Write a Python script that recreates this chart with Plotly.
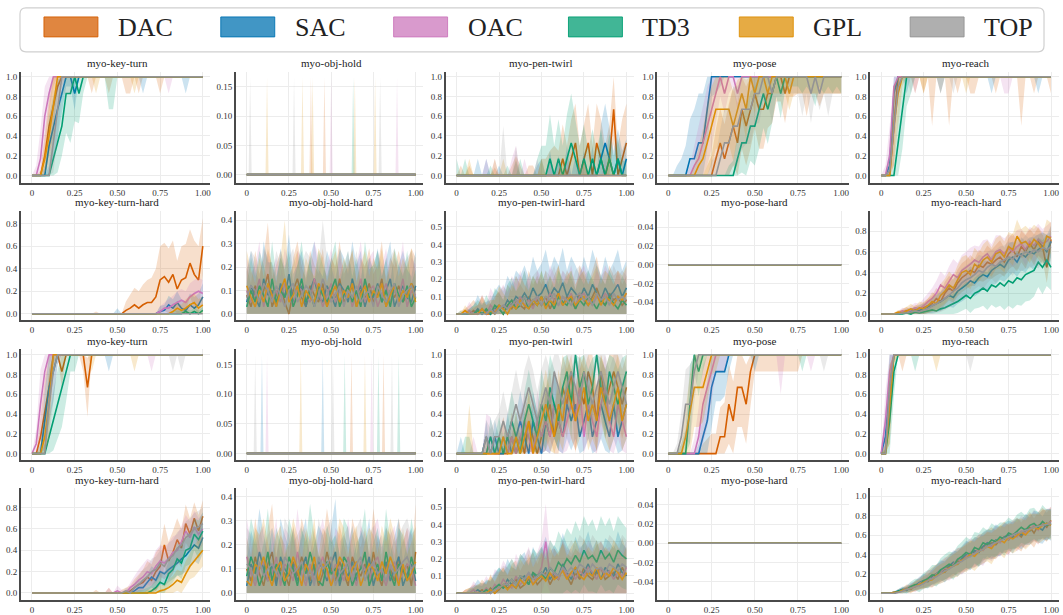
import plotly.graph_objects as go

W, H = 1063, 615
FONT = "Liberation Serif, Times New Roman, DejaVu Serif, serif"

ALGOS = ["DAC", "SAC", "OAC", "TD3", "GPL", "TOP"]
COLORS = {"DAC": (213, 94, 0), "SAC": (1, 115, 178), "OAC": (204, 120, 188),
          "TD3": (2, 158, 115), "GPL": (222, 143, 5), "TOP": (148, 148, 148)}

X = [0.0, 0.025, 0.05, 0.075, 0.1, 0.125, 0.15, 0.175, 0.2, 0.225,
     0.25, 0.275, 0.3, 0.325, 0.35, 0.375, 0.4, 0.425, 0.45, 0.475,
     0.5, 0.525, 0.55, 0.575, 0.6, 0.625, 0.65, 0.675, 0.7, 0.725,
     0.75, 0.775, 0.8, 0.825, 0.85, 0.875, 0.9, 0.925, 0.95, 0.975, 1.0]

X_TICKS = [0, 0.25, 0.5, 0.75, 1.0]
X_TICK_TEXT = ["0", "0.25", "0.50", "0.75", "1.00"]

ZEROS = [0, 0, 0, 0, 0, 0, 0, 0, 0, 0, 0, 0, 0, 0, 0, 0, 0, 0, 0, 0, 0,
         0, 0, 0, 0, 0, 0, 0, 0, 0, 0, 0, 0, 0, 0, 0, 0, 0, 0, 0, 0]

SPIKE_HEIGHT = 0.167

# ---------------- values in percent (success rate x 100) ----------------
R1_KEY_MEAN = {
    "DAC": [0,0,0,20,50,70,90,100,100,100, 100,100,100,100,100,100,100,100,100,100, 100,100,100,100,100,100,100,100,100,100, 100,100,100,100,100,100,100,100,100,100, 100],
    "SAC": [0,0,0,0,30,50,67,83,100,100, 83,100,100,100,100,100,100,100,100,100, 100,100,100,100,100,100,100,100,100,100, 100,100,100,100,100,100,100,100,100,100, 100],
    "OAC": [0,0,17,60,83,100,100,100,100,100, 100,100,100,100,100,100,100,100,100,100, 100,100,100,100,100,100,100,100,100,100, 100,100,100,100,100,100,100,100,100,100, 100],
    "TD3": [0,0,0,0,0,17,33,50,83,83, 100,83,100,100,100,100,100,100,100,100, 100,100,100,100,100,100,100,100,100,100, 100,100,100,100,100,100,100,100,100,100, 100],
    "GPL": [0,0,0,17,40,70,100,100,100,100, 100,100,100,100,100,100,100,100,100,100, 100,100,100,100,100,100,100,100,100,100, 100,100,100,100,100,100,100,100,100,100, 100],
    "TOP": [0,0,0,0,0,33,67,100,100,100, 100,100,100,100,100,100,100,100,100,100, 100,100,100,100,100,100,100,100,100,100, 100,100,100,100,100,100,100,100,100,100, 100],
}
R1_KEY_SPREAD = {
    "DAC": [0,0,5,25,30,30,20,10,0,0, 0,0,0,0,17,0,0,0,17,0, 0,0,17,17,0,17,0,0,0,0, 17,0,0,0,0,0,0,0,0,0, 0],
    "SAC": [0,0,0,10,30,30,30,20,10,10, 17,0,0,0,0,0,0,0,0,0, 0,0,0,0,0,0,17,0,0,0, 0,0,0,0,0,0,17,0,0,0, 0],
    "OAC": [0,10,30,30,20,10,0,0,0,0, 0,0,0,0,0,0,0,0,0,0, 0,0,0,0,0,0,0,0,0,0, 0,0,17,0,0,0,0,0,0,0, 0],
    "TD3": [0,0,0,0,10,25,30,30,40,50, 45,30,17,0,0,0,0,0,33,33, 0,0,0,0,0,0,0,0,0,0, 0,0,0,0,0,0,0,0,0,0, 0],
    "GPL": [0,0,0,15,30,30,10,0,0,0, 0,0,0,0,0,17,0,0,0,0, 0,0,0,0,17,0,0,0,0,0, 0,0,0,0,0,0,0,0,0,0, 0],
    "TOP": [0,0,0,0,10,30,30,17,17,17, 0,0,0,0,0,0,0,0,0,0, 0,0,0,0,0,0,0,0,0,0, 0,0,0,0,0,0,0,0,0,0, 0],
}

R1_OBJ_SPIKES = {
    "DAC": [0.38, 0.46],
    "SAC": [],
    "OAC": [0.50, 0.89],
    "TD3": [0.63],
    "GPL": [0.12, 0.33, 0.39, 0.64, 0.76],
    "TOP": [0.02, 0.28, 0.79],
}

R1_PEN_MEAN = {
    "DAC": [0,0,0,0,0,0,0,0,0,0, 0,0,0,0,0,0,0,0,0,0, 0,0,0,0,0,17,0,17,33,0, 17,33,0,33,17,0,17,67,0,17, 33],
    "SAC": [0,0,0,0,0,0,0,0,0,0, 0,0,0,0,0,0,0,0,0,0, 0,0,0,0,0,0,0,0,0,0, 0,0,0,0,17,33,17,0,17,0, 17],
    "OAC": ZEROS,
    "TD3": [0,0,0,0,0,0,0,0,0,0, 0,0,0,0,0,0,0,0,0,0, 0,0,17,0,17,0,17,33,17,0, 17,0,17,0,17,0,17,0,17,0, 0],
    "GPL": ZEROS,
    "TOP": ZEROS,
}
R1_PEN_SPREAD = {
    "DAC": [0,10,0,10,0,0,0,0,0,8, 0,0,0,10,20,10,0,10,10,0, 17,17,25,30,25,35,30,40,40,30, 35,40,30,40,40,30,35,35,30,40, 40],
    "SAC": [0,0,0,0,0,17,0,17,0,0, 10,0,0,0,15,0,0,0,0,10, 17,0,25,0,20,0,30,0,20,0, 25,0,30,0,35,40,30,25,30,25, 20],
    "OAC": [0,0,0,0,0,0,0,17,0,17, 0,0,0,17,30,0,17,0,0,17, 0,0,17,0,0,0,17,0,0,0, 20,0,0,0,0,17,0,0,0,0, 0],
    "TD3": [17,0,17,0,0,0,0,0,10,0, 0,0,10,0,0,17,0,0,0,17, 30,30,45,30,40,30,45,50,40,30, 35,25,30,25,30,20,25,20,20,15, 15],
    "GPL": [0,0,0,17,0,0,0,0,0,17, 0,17,0,0,17,0,0,0,0,0, 17,0,0,0,0,17,0,0,0,0, 17,0,0,0,0,0,30,0,0,0, 0],
    "TOP": [0,0,0,0,0,0,0,0,0,0, 0,50,0,0,30,0,0,0,0,0, 0,0,0,0,17,0,0,0,0,17, 0,0,0,0,0,0,0,0,0,0, 0],
}

R1_POSE_MEAN = {
    "DAC": [0,0,0,0,0,0,0,0,0,0, 0,17,33,17,33,50,33,67,50,67, 83,67,67,83,83,100,100,83,100,100, 100,100,100,100,100,100,100,100,100,100, 100],
    "SAC": [0,0,0,0,0,17,17,33,33,67, 100,100,100,100,100,100,100,100,100,100, 100,100,100,100,100,100,100,100,100,100, 100,100,100,100,100,100,100,100,100,100, 100],
    "OAC": [0,0,0,0,0,0,10,17,33,50, 67,83,100,83,100,100,83,100,100,100, 100,100,100,100,100,100,100,100,100,100, 100,100,100,100,100,100,100,100,100,100, 100],
    "TD3": [0,0,0,0,0,0,0,0,0,0, 0,0,0,0,0,0,17,33,33,50, 50,67,83,67,83,100,83,100,100,100, 100,100,100,100,100,100,100,100,100,100, 100],
    "GPL": [0,0,0,0,0,0,0,10,17,33, 50,67,67,67,67,50,67,83,67,100, 83,100,100,83,100,100,100,100,83,100, 100,100,100,100,100,100,100,100,100,100, 100],
    "TOP": [0,0,0,0,0,0,0,0,0,0, 0,0,17,33,33,50,50,67,67,67, 83,83,100,100,83,100,100,100,100,100, 100,100,100,83,100,83,100,100,100,100, 100],
}
R1_POSE_SPREAD = {
    "DAC": [0,0,0,0,0,0,0,0,0,10, 20,30,35,35,40,40,40,40,40,40, 35,40,40,35,30,25,25,30,20,20, 17,17,40,17,17,30,17,17,17,17, 17],
    "SAC": [0,0,10,17,30,40,50,50,50,40, 20,17,10,0,0,0,0,0,0,0, 17,0,0,0,0,0,0,0,0,0, 0,0,0,0,0,0,0,0,0,0, 0],
    "OAC": [0,0,0,0,0,10,20,30,35,40, 40,30,20,20,17,10,17,0,0,0, 0,0,0,0,0,0,0,0,0,0, 0,0,0,0,0,0,0,0,0,0, 0],
    "TD3": [0,0,0,0,0,0,0,0,0,0, 0,0,0,0,10,15,25,30,35,35, 40,40,35,35,30,20,25,15,10,10, 10,17,10,17,30,10,17,10,17,10, 17],
    "GPL": [0,0,0,0,0,0,10,20,30,40, 40,40,40,35,35,35,30,25,30,20, 20,17,17,17,17,17,17,17,17,17, 17,17,17,17,17,17,17,17,17,17, 17],
    "TOP": [0,0,0,0,0,0,0,0,0,0, 15,20,30,35,35,40,40,40,35,35, 30,30,25,25,30,20,20,17,17,17, 17,40,17,30,17,17,17,40,17,17, 17],
}

R1_REACH_MEAN = {
    "DAC": [0,0,0,50,100,100,100,100,100,100, 100,100,100,100,100,100,100,100,100,100, 100,100,100,100,100,100,100,100,100,100, 100,100,100,100,100,100,100,100,100,100, 100],
    "SAC": [0,0,10,83,100,100,100,100,100,100, 100,100,100,100,100,100,100,100,100,100, 100,100,100,100,100,100,100,100,100,100, 100,100,100,100,100,100,100,100,100,100, 100],
    "OAC": [0,0,20,90,100,100,100,100,100,100, 100,100,100,100,100,100,100,100,100,100, 100,100,100,100,100,100,100,100,100,100, 100,100,100,100,100,100,100,100,100,100, 100],
    "TD3": [0,0,0,0,33,67,100,100,100,100, 100,100,100,100,100,100,100,100,100,100, 100,100,100,100,100,100,100,100,100,100, 100,100,100,100,100,100,100,100,100,100, 100],
    "GPL": [0,0,0,50,83,100,100,100,100,100, 100,100,100,100,100,100,100,100,100,100, 100,100,100,100,100,100,100,100,100,100, 100,100,100,100,100,100,100,100,100,100, 100],
    "TOP": [0,0,5,50,90,100,100,100,100,100, 100,100,100,100,100,100,100,100,100,100, 100,100,100,100,100,100,100,100,100,100, 100,100,100,100,100,100,100,100,100,100, 100],
}
R1_REACH_SPREAD = {
    "DAC": [0,0,10,40,10,0,0,0,17,0, 17,0,50,0,17,0,50,0,17,0, 0,17,17,0,0,0,0,17,0,0, 0,0,0,50,0,0,17,0,0,0, 17],
    "SAC": [0,0,17,30,10,0,17,0,0,0, 0,0,0,0,17,0,0,0,0,0, 0,0,0,0,0,0,17,0,0,0, 0,0,0,0,0,0,0,17,0,0, 0],
    "OAC": [0,10,30,20,0,0,0,0,17,0, 0,0,0,0,0,0,0,0,0,0, 0,0,0,0,0,0,0,0,0,17, 17,0,0,0,0,0,0,0,0,0, 0],
    "TD3": [0,0,0,10,40,40,30,17,0,0, 0,0,0,0,0,0,0,0,0,0, 0,0,0,0,0,0,0,0,0,0, 0,0,0,0,0,0,0,0,0,0, 0],
    "GPL": [0,0,5,40,30,10,0,0,0,0, 17,0,0,0,0,0,0,0,0,0, 17,0,0,0,0,0,0,0,0,0, 0,0,0,0,0,0,0,0,0,0, 0],
    "TOP": [0,0,15,40,20,0,0,17,0,0, 0,0,0,0,0,0,0,17,0,0, 0,0,0,0,0,0,0,0,0,0, 0,0,0,0,0,0,0,0,0,0, 0],
}

R2_KEYH_MEAN = {
    "DAC": [0,0,0,0,0,0,0,0,0,0, 0,0,0,0,0,0,0,0,0,0, 0,0,3,5,8,5,8,10,10,15, 30,33,28,35,22,30,32,45,35,30, 60],
    "SAC": [0,0,0,0,0,0,0,0,0,0, 0,0,0,0,0,0,0,0,0,0, 0,0,0,0,0,0,0,0,0,0, 2,3,8,5,10,5,3,8,5,8, 15],
    "OAC": [0,0,0,0,0,0,0,0,0,0, 0,0,0,0,0,0,0,0,0,0, 0,0,0,0,0,0,0,0,0,0, 2,5,5,8,10,12,10,15,18,20, 18],
    "TD3": [0,0,0,0,0,0,0,0,0,0, 0,0,0,0,0,0,0,0,0,0, 0,0,0,0,0,0,0,0,0,0, 0,0,0,0,0,0,2,0,2,0, 3],
    "GPL": [0,0,0,0,0,0,0,0,0,0, 0,0,0,0,0,0,0,0,0,0, 0,0,0,0,0,0,0,0,0,0, 0,0,0,2,5,3,5,8,10,5, 8],
    "TOP": ZEROS,
}
R2_KEYH_SPREAD = {
    "DAC": [0,0,0,0,0,0,0,0,0,0, 0,0,0,0,0,2,0,0,0,0, 0,0,8,12,15,15,18,20,22,25, 30,30,30,30,25,30,30,30,30,30, 25],
    "SAC": [0,0,0,0,0,0,0,0,0,0, 0,0,0,0,0,0,0,0,0,0, 5,0,0,0,0,0,0,0,0,0, 5,5,8,8,10,8,8,10,10,10, 12],
    "OAC": [0,0,0,0,0,0,0,0,0,0, 0,0,0,0,0,0,0,0,0,0, 0,0,0,0,0,0,0,0,0,0, 5,5,8,8,10,10,10,12,12,12, 12],
    "TD3": [0,0,0,0,0,0,0,0,0,0, 0,0,0,0,0,0,0,0,0,0, 0,0,0,0,0,0,0,0,0,0, 0,0,0,3,3,3,3,3,3,3, 3],
    "GPL": [0,0,0,0,0,0,0,0,0,0, 0,0,0,0,0,0,0,0,0,0, 0,0,0,0,0,0,0,0,0,0, 0,0,0,5,5,5,8,8,8,8, 8],
    "TOP": ZEROS,
}

R2_OBJH_MEAN = {
    "DAC": [8,3,12,5,10,17,3,8,12,5, 0,10,15,7,3,12,8,5,13,3, 10,7,15,5,8,12,3,10,7,13, 5,8,15,3,10,7,12,5,8,13, 10],
    "SAC": [5,12,7,3,15,8,10,3,13,7, 17,5,8,12,3,10,15,7,5,12, 8,3,13,10,5,15,8,12,3,10, 7,13,5,10,15,3,8,12,7,5, 12],
    "OAC": [10,5,8,15,3,12,7,10,5,13, 8,3,12,10,7,5,15,10,3,8, 13,5,10,7,12,3,8,15,5,10, 12,3,8,13,5,10,7,15,3,10, 8],
    "TD3": [3,10,5,12,8,3,15,5,10,7, 12,3,8,15,5,10,3,12,8,5, 10,15,3,8,12,5,10,3,15,7, 8,12,5,10,3,13,8,5,12,3, 7],
    "GPL": [12,7,3,10,5,13,8,3,10,15, 5,8,12,3,10,7,5,13,10,3, 8,12,5,10,7,13,3,8,12,5, 10,7,13,3,8,12,5,10,7,13, 5],
    "TOP": [7,12,10,5,13,10,5,12,8,3, 10,13,5,8,12,10,3,8,15,10, 5,8,12,3,10,7,12,5,8,10, 3,12,8,5,10,13,3,8,10,12, 7],
}
R2_OBJH_SPREAD = {
    "DAC": [12,10,15,12,14,22,12,13,15,12, 10,14,16,13,12,15,13,12,15,11, 14,13,16,12,13,15,11,14,13,15, 12,13,16,11,14,13,15,12,13,15, 14],
    "SAC": [13,15,12,10,16,14,12,11,15,13, 17,12,13,15,10,14,16,12,11,15, 13,10,15,14,12,16,13,15,10,14, 12,15,11,14,16,10,13,15,12,11, 15],
    "OAC": [14,12,13,16,10,15,12,14,11,15, 13,10,15,14,12,11,16,14,10,13, 15,11,14,12,15,10,13,16,11,14, 15,10,13,15,11,14,12,16,10,14, 13],
    "TD3": [10,14,11,15,13,10,16,11,14,12, 15,10,13,16,11,14,10,15,13,11, 14,16,10,13,15,11,14,10,16,12, 13,15,11,14,10,15,13,11,15,10, 12],
    "GPL": [15,12,10,14,11,15,13,10,14,25, 11,13,15,10,14,12,11,15,14,10, 13,15,11,14,12,15,10,13,15,11, 14,12,15,10,13,15,11,14,12,15, 11],
    "TOP": [12,15,14,11,15,14,11,15,13,10, 14,15,11,13,15,14,10,13,25,14, 11,13,15,10,14,12,15,11,13,14, 10,15,13,11,14,15,10,13,14,15, 12],
}

R2_PENH_MEAN = {
    "DAC": [0,0,0,0,2,0,3,0,0,2, 3,0,5,3,8,5,3,10,5,8, 5,10,3,8,12,5,10,8,3,12, 8,5,10,15,8,5,12,8,10,5, 8],
    "SAC": [0,0,0,0,0,3,0,2,0,3, 5,3,8,5,10,8,12,8,15,10, 12,17,10,15,12,18,10,15,12,8, 15,10,17,12,8,15,10,13,17,10, 15],
    "OAC": [0,0,0,2,0,0,3,0,5,2, 3,5,3,8,5,10,5,8,3,10, 8,5,12,8,5,10,7,12,5,10, 12,8,5,10,7,12,8,5,10,7, 12],
    "TD3": [0,0,0,0,0,2,0,3,0,5, 3,0,5,8,3,5,10,3,8,5, 10,5,8,3,10,7,5,10,3,8, 5,10,7,3,8,5,10,6,3,8, 5],
    "GPL": [0,0,2,0,0,0,3,0,2,0, 5,3,0,5,3,8,5,3,8,5, 10,3,8,5,12,5,8,10,5,8, 10,5,8,12,5,10,8,5,10,8, 12],
    "TOP": [0,0,0,0,0,0,0,0,3,0, 3,5,3,5,8,5,10,5,8,10, 5,10,8,12,5,10,8,5,10,12, 8,10,5,12,8,10,5,12,8,10, 8],
}
R2_PENH_SPREAD = {
    "DAC": [0,2,3,5,6,5,8,5,6,8, 10,8,12,10,14,12,10,15,12,14, 12,15,11,14,16,12,15,13,11,16, 14,12,15,18,13,12,16,14,15,12, 14],
    "SAC": [0,0,2,3,5,8,6,5,8,10, 12,10,14,12,15,14,16,13,18,15, 17,20,15,18,16,20,15,18,16,14, 18,15,20,17,14,18,15,17,20,15, 16],
    "OAC": [0,0,2,5,3,5,8,6,10,8, 10,12,9,14,12,15,11,13,10,15, 13,11,16,14,12,15,13,16,12,14, 16,13,11,15,13,16,14,12,15,13, 15],
    "TD3": [0,2,0,3,5,6,5,8,6,10, 9,8,12,13,10,12,15,11,14,12, 15,12,14,11,15,13,12,15,11,14, 12,15,13,11,14,12,15,13,11,14, 12],
    "GPL": [0,0,3,2,4,5,7,5,6,8, 11,9,8,12,10,14,12,10,14,12, 15,11,14,12,16,12,14,15,12,14, 15,12,14,16,12,15,14,12,15,14, 16],
    "TOP": [0,0,0,2,3,5,5,6,8,7, 9,11,10,12,14,12,15,12,14,15, 12,15,14,16,12,15,14,12,15,16, 14,15,12,16,14,15,12,16,14,15, 14],
}

POSEH_MEAN = {"DAC": ZEROS, "SAC": ZEROS, "OAC": ZEROS, "TD3": ZEROS, "GPL": ZEROS, "TOP": ZEROS}
POSEH_SPREAD = {"DAC": ZEROS, "SAC": ZEROS, "OAC": ZEROS, "TD3": ZEROS, "GPL": ZEROS, "TOP": ZEROS}

R2_REACHH_MEAN = {
    "DAC": [0,0,0,0,0,2,3,1,4,3, 6,8,10,15,12,20,25,22,30,35, 38,42,40,47,45,50,48,52,55,50, 58,62,55,65,60,68,62,70,65,45, 72],
    "SAC": [0,0,0,0,0,1,2,3,2,4, 5,7,8,10,12,15,18,16,22,25, 28,32,30,35,38,36,42,45,48,45, 52,55,50,58,55,60,58,62,65,60, 70],
    "OAC": [0,0,0,0,1,3,2,4,6,5, 8,12,15,20,28,25,32,38,35,42, 45,48,52,50,55,58,52,60,62,58, 63,60,65,68,62,70,66,72,68,70, 75],
    "TD3": [0,0,0,0,0,0,1,0,2,1, 2,3,4,3,5,6,8,10,12,15, 18,15,20,22,25,22,28,26,30,27, 32,30,35,33,38,40,42,50,45,52, 45],
    "GPL": [0,0,0,0,2,1,3,5,3,6, 5,8,12,10,18,22,28,25,33,40, 42,38,48,45,52,55,50,58,60,55, 65,62,75,68,70,65,72,68,62,75, 73],
    "TOP": [0,0,0,0,0,1,1,2,3,2, 4,5,8,10,12,15,18,22,25,30, 33,35,38,42,40,45,48,46,50,52, 55,53,58,56,60,58,62,60,64,62, 65],
}
R2_REACHH_SPREAD = {
    "DAC": [0,0,0,1,2,3,4,3,5,5, 6,7,8,10,9,11,12,11,13,14, 14,15,13,15,14,16,14,15,16,14, 15,16,14,15,16,14,15,14,13,15, 14],
    "SAC": [0,0,0,0,1,2,3,3,4,5, 5,6,7,8,9,10,11,10,12,13, 13,14,13,15,14,15,14,16,15,14, 16,15,14,16,15,14,16,15,14,16, 15],
    "OAC": [0,0,0,1,2,3,3,4,5,5, 7,8,10,12,13,12,14,15,14,15, 15,16,14,15,16,14,15,16,14,15, 14,15,16,14,15,14,16,15,14,15, 14],
    "TD3": [0,0,0,0,0,1,2,2,3,3, 4,5,5,6,7,8,9,10,11,12, 13,14,15,16,17,18,19,20,22,23, 24,25,26,25,26,27,25,24,26,25, 22],
    "GPL": [0,0,0,1,2,3,4,5,4,6, 6,7,9,8,11,12,13,12,14,15, 15,14,16,14,15,16,14,15,16,15, 14,15,16,14,15,16,14,15,14,16, 15],
    "TOP": [0,0,0,0,1,2,2,3,4,4, 5,6,8,9,10,11,12,12,13,14, 14,15,14,15,16,15,14,16,15,14, 15,16,14,15,16,14,15,16,14,15, 14],
}

R3_KEY_MEAN = {
    "DAC": [0,0,17,40,67,100,100,83,100,100, 100,100,100,67,100,100,100,100,100,100, 100,100,100,100,100,100,100,100,100,100, 100,100,100,100,100,100,100,100,100,100, 100],
    "SAC": [0,0,0,33,67,83,100,100,100,100, 100,100,100,100,100,100,100,100,100,100, 100,100,100,100,100,100,100,100,100,100, 100,100,100,100,100,100,100,100,100,100, 100],
    "OAC": [0,10,50,83,100,100,100,100,100,100, 100,100,100,100,100,100,100,100,100,100, 100,100,100,100,100,100,100,100,100,100, 100,100,100,100,100,100,100,100,100,100, 100],
    "TD3": [0,0,0,0,17,33,50,67,83,100, 100,100,100,100,100,100,100,100,100,100, 100,100,100,100,100,100,100,100,100,100, 100,100,100,100,100,100,100,100,100,100, 100],
    "GPL": [0,0,0,17,50,100,100,100,100,100, 100,100,100,100,100,100,100,100,100,100, 100,100,100,100,100,100,100,100,100,100, 100,100,100,100,100,100,100,100,100,100, 100],
    "TOP": [0,0,0,0,50,83,100,100,100,100, 100,100,100,100,100,100,100,100,100,100, 100,100,100,100,100,100,100,100,100,100, 100,100,100,100,100,100,100,100,100,100, 100],
}
R3_KEY_SPREAD = {
    "DAC": [0,0,20,35,35,20,0,17,0,0, 0,0,17,30,0,0,0,0,0,0, 0,0,0,0,0,0,0,0,0,0, 0,0,0,0,0,0,0,0,0,0, 0],
    "SAC": [0,0,10,30,35,30,10,0,0,0, 0,0,0,0,0,0,0,0,17,0, 0,0,0,0,0,0,0,0,0,0, 0,0,0,0,0,0,0,0,0,0, 0],
    "OAC": [0,15,35,25,10,0,0,0,0,0, 0,0,0,0,0,0,0,0,0,0, 0,0,0,0,0,0,0,0,17,0, 0,0,0,0,0,0,0,0,0,0, 0],
    "TD3": [0,0,0,10,20,30,35,40,30,17, 17,0,0,0,0,0,0,0,0,0, 0,0,0,0,0,0,0,0,0,0, 0,0,0,0,0,0,0,0,0,0, 0],
    "GPL": [0,0,5,20,35,10,0,0,0,0, 0,0,0,0,17,0,0,0,0,0, 0,0,0,0,17,0,0,0,0,0, 0,0,0,0,0,0,0,0,0,0, 0],
    "TOP": [0,0,0,10,35,30,10,0,0,0, 0,0,0,0,0,0,0,0,0,0, 0,0,0,0,0,0,0,0,0,0, 0,0,0,17,0,17,0,0,0,0, 0],
}

R3_OBJ_SPIKES = {
    "DAC": [0.62, 0.81],
    "SAC": [0.09, 0.45],
    "OAC": [0.12, 0.74],
    "TD3": [0.58, 0.78, 0.90],
    "GPL": [0.32, 0.70],
    "TOP": [0.05, 0.51, 0.86],
}

R3_PEN_MEAN = {
    "DAC": [0,0,0,0,0,0,0,0,0,0, 0,0,0,17,0,17,0,33,17,0, 17,33,50,17,33,67,50,83,33,67, 50,83,67,33,83,50,67,83,67,50, 67],
    "SAC": [0,0,0,0,0,0,0,17,0,17, 0,0,17,0,17,33,17,0,33,17, 0,33,17,50,33,17,50,33,50,17, 33,50,17,33,50,33,17,50,17,33, 50],
    "OAC": [0,0,0,0,0,0,0,0,17,0, 0,17,0,17,0,17,33,17,0,33, 17,33,17,50,33,17,33,50,33,67, 17,50,33,17,50,67,33,17,50,33, 17],
    "TD3": [0,0,0,0,0,0,0,0,17,0, 17,0,17,33,17,0,33,50,33,17, 50,33,67,50,33,67,83,50,100,67, 83,50,67,100,67,50,83,67,50,67, 83],
    "GPL": [0,0,0,0,0,0,0,0,0,0, 0,17,0,0,17,0,17,33,0,17, 33,50,33,17,50,33,67,50,33,50, 67,33,50,33,67,50,33,50,67,33, 50],
    "TOP": [0,0,0,0,0,0,0,17,0,17, 17,33,17,33,50,33,50,67,50,33, 50,67,50,83,67,50,67,83,67,50, 83,67,50,67,83,67,50,67,83,67, 50],
}
R3_PEN_SPREAD = {
    "DAC": [0,0,0,0,0,0,0,0,0,0, 0,0,17,25,17,25,17,30,25,17, 25,30,35,30,35,35,35,30,35,35, 35,25,35,35,25,35,35,25,35,35, 35],
    "SAC": [0,17,0,0,0,0,0,17,0,17, 17,10,25,17,25,30,25,17,30,25, 17,30,30,35,30,30,35,30,35,30, 30,35,30,30,35,30,30,35,30,30, 35],
    "OAC": [0,0,0,0,17,0,0,40,20,17, 10,20,17,20,17,25,30,25,17,30, 25,30,25,35,30,25,30,35,30,35, 25,35,30,25,35,35,30,25,35,30, 25],
    "TD3": [0,0,17,17,0,0,0,0,20,17, 20,17,20,30,25,17,30,35,30,25, 35,30,35,35,30,30,20,35,0,30, 20,35,30,0,30,35,20,30,35,30, 20],
    "GPL": [0,0,0,50,0,0,0,20,0,0, 17,20,17,17,25,17,25,30,17,25, 30,35,30,25,35,30,35,35,30,35, 35,30,35,30,35,35,30,35,35,30, 35],
    "TOP": [0,0,0,0,0,0,0,17,25,17, 25,30,25,30,35,30,35,33,35,30, 35,33,35,17,33,35,33,17,33,35, 17,33,35,33,17,33,35,33,17,33, 35],
}

R3_POSE_MEAN = {
    "DAC": [0,0,0,0,0,0,0,0,0,0, 0,0,17,17,50,33,67,67,50,83, 100,100,100,100,100,100,100,100,100,100, 100,100,100,100,100,100,100,100,100,100, 100],
    "SAC": [0,0,0,0,0,0,0,0,17,33, 67,83,83,83,100,100,100,100,100,100, 100,100,100,100,100,100,100,100,100,100, 100,100,100,100,100,100,100,100,100,100, 100],
    "OAC": [0,0,0,0,0,0,0,17,50,67, 83,100,100,100,100,100,100,100,100,100, 100,100,100,100,100,100,100,100,100,100, 100,100,100,100,100,100,100,100,100,100, 100],
    "TD3": [0,0,0,0,0,50,100,83,100,100, 100,100,100,100,100,100,100,100,100,100, 100,100,100,100,100,100,100,100,100,100, 100,100,100,100,100,100,100,100,100,100, 100],
    "GPL": [0,0,0,0,17,40,67,67,67,83, 100,100,100,100,100,100,100,100,100,100, 100,100,100,100,100,100,100,100,100,100, 100,100,100,100,100,100,100,100,100,100, 100],
    "TOP": [0,0,0,17,50,50,83,100,100,100, 100,100,100,100,100,100,100,100,100,100, 100,100,100,100,100,100,100,100,100,100, 100,100,100,100,100,100,100,100,100,100, 100],
}
R3_POSE_SPREAD = {
    "DAC": [0,0,0,0,0,0,0,0,10,15, 20,20,30,35,40,40,40,40,40,35, 17,17,17,17,17,17,17,17,17,17, 17,0,0,0,0,0,0,0,0,0, 0],
    "SAC": [0,0,0,0,0,0,0,10,25,40, 40,30,30,25,17,0,0,0,0,0, 17,0,0,0,0,0,0,0,0,0, 0,0,0,0,0,0,0,0,0,0, 0],
    "OAC": [0,0,0,0,0,0,15,30,40,40, 30,17,17,17,0,0,0,0,0,0, 0,0,0,0,0,0,40,0,0,0, 0,0,0,17,0,0,0,0,0,0, 0],
    "TD3": [0,0,0,10,25,40,17,25,17,0, 0,0,0,0,0,0,0,0,0,0, 0,0,0,0,0,0,0,0,0,0, 0,17,0,0,0,0,0,0,0,0, 0],
    "GPL": [0,0,0,10,30,40,40,40,35,30, 20,17,0,0,0,0,0,0,0,0, 0,0,0,0,0,0,0,0,0,0, 0,0,0,0,0,0,0,0,0,0, 0],
    "TOP": [0,0,10,25,35,40,30,17,0,0, 0,0,0,0,0,0,0,0,0,0, 0,0,0,0,0,0,0,0,0,0, 0,0,0,0,0,0,17,0,0,0, 0],
}

R3_REACH_MEAN = {
    "DAC": [0,0,50,100,100,100,100,100,100,100, 100,100,100,100,100,100,100,100,100,100, 100,100,100,100,100,100,100,100,100,100, 100,100,100,100,100,100,100,100,100,100, 100],
    "SAC": [0,17,67,100,100,100,100,100,100,100, 100,100,100,100,100,100,100,100,100,100, 100,100,100,100,100,100,100,100,100,100, 100,100,100,100,100,100,100,100,100,100, 100],
    "OAC": [0,33,83,100,100,100,100,100,100,100, 100,100,100,100,100,100,100,100,100,100, 100,100,100,100,100,100,100,100,100,100, 100,100,100,100,100,100,100,100,100,100, 100],
    "TD3": [0,0,33,83,100,100,100,100,100,100, 100,100,100,100,100,100,100,100,100,100, 100,100,100,100,100,100,100,100,100,100, 100,100,100,100,100,100,100,100,100,100, 100],
    "GPL": [0,0,50,100,100,100,100,100,100,100, 100,100,100,100,100,100,100,100,100,100, 100,100,100,100,100,100,100,100,100,100, 100,100,100,100,100,100,100,100,100,100, 100],
    "TOP": [0,0,67,100,100,100,100,100,100,100, 100,100,100,100,100,100,100,100,100,100, 100,100,100,100,100,100,100,100,100,100, 100,100,100,100,100,100,100,100,100,100, 100],
}
R3_REACH_SPREAD = {
    "DAC": [0,10,40,0,0,17,0,0,0,0, 0,0,0,0,0,0,0,0,0,0, 0,0,0,0,0,0,0,0,0,0, 0,0,0,0,0,0,0,0,0,0, 0],
    "SAC": [0,25,35,0,0,0,0,0,0,0, 0,0,0,0,0,0,0,0,0,0, 0,0,0,0,0,0,0,0,0,0, 0,0,0,0,0,0,0,0,0,0, 0],
    "OAC": [0,30,20,0,0,0,0,0,0,0, 0,0,0,0,0,0,0,0,0,0, 0,0,0,0,0,0,0,0,0,0, 0,0,0,0,0,0,0,0,0,0, 0],
    "TD3": [0,5,35,25,0,0,0,0,17,0, 0,0,0,0,0,0,0,0,0,0, 0,0,0,0,0,0,0,0,0,0, 0,0,0,0,0,0,0,0,0,0, 0],
    "GPL": [0,10,40,10,0,0,0,0,0,0, 0,0,0,17,0,0,0,0,0,0, 0,0,0,0,0,0,0,0,0,0, 0,0,0,0,0,0,0,0,0,0, 0],
    "TOP": [0,10,35,0,0,0,0,0,0,0, 0,0,0,0,0,0,0,0,0,0, 0,17,0,0,0,0,0,0,0,0, 0,0,0,0,0,0,0,0,0,0, 0],
}

R4_KEYH_MEAN = {
    "DAC": [0,0,0,0,0,0,0,0,0,0, 0,0,0,0,0,0,0,0,0,0, 0,0,0,2,5,8,10,15,12,20, 25,45,30,38,50,42,65,55,70,58, 72],
    "SAC": [0,0,0,0,0,0,0,0,0,0, 0,0,0,0,0,0,0,0,0,0, 0,0,0,0,2,5,5,10,15,12, 20,18,22,25,28,32,35,40,45,42, 52],
    "OAC": [0,0,0,0,0,0,0,0,0,0, 0,0,0,0,0,0,0,0,0,0, 2,0,0,5,8,12,15,20,18,25, 30,28,32,38,40,48,58,52,62,55, 60],
    "TD3": [0,0,0,0,0,0,0,0,0,0, 0,0,0,0,0,0,0,0,0,0, 0,0,0,0,0,0,0,0,2,5, 10,8,18,22,32,28,40,42,55,50, 58],
    "GPL": [0,0,0,0,0,0,0,0,0,0, 0,0,0,0,0,0,0,0,0,0, 0,0,0,0,0,0,0,0,0,0, 2,3,5,8,12,10,18,25,30,35, 40],
    "TOP": [0,0,0,0,0,0,0,0,0,0, 0,0,0,0,0,0,0,0,0,0, 0,0,2,0,5,8,12,15,20,22, 28,25,32,35,42,45,52,55,60,62, 65],
}
R4_KEYH_SPREAD = {
    "DAC": [0,0,0,0,0,0,0,0,0,0, 0,0,0,0,0,3,0,0,5,0, 0,3,5,5,8,10,12,15,15,18, 18,20,18,20,20,18,18,15,15,15, 15],
    "SAC": [0,0,0,0,0,0,0,0,0,0, 0,0,0,0,0,0,0,0,0,0, 0,0,0,3,5,6,8,8,10,10, 12,12,12,12,12,15,15,15,15,15, 15],
    "OAC": [0,0,0,0,0,0,0,0,0,0, 0,0,0,0,0,0,0,0,5,0, 5,3,3,5,8,10,12,12,12,15, 15,15,15,15,15,15,15,15,15,15, 15],
    "TD3": [0,0,0,0,0,0,0,0,0,0, 0,0,0,0,0,0,0,0,0,0, 0,0,0,0,0,3,3,5,5,8, 10,10,12,12,15,15,15,15,15,18, 18],
    "GPL": [0,0,0,0,0,0,0,0,0,0, 0,0,0,0,0,0,0,0,0,0, 0,0,0,0,0,0,0,3,3,5, 5,5,8,8,10,10,12,12,15,15, 15],
    "TOP": [0,0,0,0,0,0,0,0,0,0, 0,0,0,0,0,0,0,0,0,0, 0,0,3,3,5,8,10,10,12,12, 12,12,15,15,15,15,15,15,15,15, 15],
}

R4_OBJH_MEAN = {
    "DAC": [10,5,15,8,3,12,17,5,10,8, 3,13,7,15,10,5,12,3,8,17, 10,5,13,8,3,15,10,7,12,5, 17,8,3,12,10,5,15,8,12,3, 17],
    "SAC": [3,12,8,17,10,5,12,3,15,10, 7,12,5,10,15,3,8,13,10,5, 12,17,3,10,7,13,5,12,8,15, 3,10,7,13,5,10,15,3,8,12, 5],
    "OAC": [15,8,3,10,13,5,8,15,3,12, 10,5,17,8,3,12,5,10,15,8, 3,12,10,5,15,8,3,13,10,5, 12,15,8,3,10,13,5,8,12,10, 3],
    "TD3": [7,15,10,3,8,17,5,12,8,3, 15,10,3,12,8,17,10,5,3,13, 8,10,5,15,12,3,8,10,17,3, 8,12,5,17,8,3,12,10,5,15, 8],
    "GPL": [5,3,12,10,15,8,3,10,13,5, 8,15,10,3,12,8,15,5,12,10, 3,8,15,12,5,10,13,3,8,12, 10,5,13,8,15,10,3,12,5,8, 13],
    "TOP": [12,10,5,13,7,10,12,8,5,15, 12,8,10,13,5,10,3,15,10,12, 15,3,8,10,13,5,12,15,5,10, 13,8,10,5,12,8,10,13,15,10, 12],
}
R4_OBJH_SPREAD = {
    "DAC": [13,11,16,12,10,15,20,11,14,12, 10,15,12,16,14,11,15,10,13,18, 14,11,15,13,10,16,14,12,15,11, 18,13,10,15,14,11,16,13,15,10, 20],
    "SAC": [10,14,12,18,14,11,15,10,16,14, 12,15,11,14,16,10,13,15,14,11, 15,22,10,14,12,15,11,14,13,16, 10,14,12,15,11,14,16,10,13,15, 11],
    "OAC": [16,13,10,14,15,11,13,16,10,15, 14,11,18,13,10,15,11,14,16,13, 10,15,14,11,16,13,10,15,14,11, 15,16,13,10,14,15,11,13,15,14, 10],
    "TD3": [12,16,14,10,13,18,11,15,13,10, 16,14,10,15,13,20,14,11,10,15, 13,14,11,16,15,10,13,14,18,10, 13,15,11,18,13,10,15,14,11,16, 13],
    "GPL": [11,10,15,14,16,13,10,14,15,11, 13,16,14,10,15,13,16,11,15,14, 10,13,16,15,11,14,15,10,13,15, 14,11,15,13,16,14,10,15,11,13, 15],
    "TOP": [15,14,11,15,12,14,15,13,11,16, 15,13,14,15,11,14,10,16,14,15, 16,10,13,14,15,11,15,16,11,14, 15,13,14,11,15,13,14,15,16,14, 15],
}

R4_PENH_MEAN = {
    "DAC": [0,0,0,0,0,0,2,0,3,0, 2,5,3,5,8,3,5,8,10,5, 8,12,5,10,8,15,10,5,12,8, 15,10,8,12,15,8,10,12,8,15, 10],
    "SAC": [0,0,0,0,0,2,0,0,2,3, 5,3,8,5,3,8,10,5,12,8, 10,15,8,12,10,17,12,8,15,10, 12,17,10,13,8,15,12,10,17,12, 10],
    "OAC": [0,0,0,0,2,0,0,3,0,5, 3,8,5,3,10,5,8,12,5,10, 15,30,10,12,8,15,10,12,8,13, 10,15,12,8,15,10,13,8,12,10, 15],
    "TD3": [0,0,0,0,0,0,0,2,0,3, 5,3,5,8,5,10,8,5,12,10, 12,8,15,12,18,15,20,17,22,18, 25,20,22,18,25,20,23,18,25,22, 20],
    "GPL": [0,0,0,0,0,0,0,0,2,0, 3,5,2,5,3,8,5,10,5,8, 10,7,12,8,10,13,8,12,15,10, 8,12,10,15,8,12,10,15,12,8, 12],
    "TOP": [0,0,0,0,0,0,0,0,0,2, 3,5,5,8,5,10,8,12,8,10, 12,10,15,12,10,15,12,15,12,17, 15,12,17,14,15,12,17,15,13,17, 15],
}
R4_PENH_SPREAD = {
    "DAC": [0,0,2,3,5,4,6,5,8,6, 9,10,8,12,11,10,13,12,14,12, 15,14,12,16,14,15,13,16,14,15, 17,15,14,16,15,17,14,16,15,17, 15],
    "SAC": [0,0,0,3,4,6,5,7,6,9, 10,9,12,10,11,13,14,12,15,13, 16,18,15,16,14,18,16,15,18,16, 17,19,16,18,15,17,18,16,19,17, 16],
    "OAC": [0,0,2,2,5,4,5,7,6,9, 9,11,10,9,13,12,13,15,12,14, 16,22,15,14,13,16,15,14,13,15, 14,16,15,13,16,15,14,13,15,14, 16],
    "TD3": [0,0,0,2,3,5,4,6,7,8, 10,9,11,12,10,13,12,11,14,13, 15,13,16,15,18,16,18,17,20,18, 20,19,21,18,20,19,21,18,20,19, 18],
    "GPL": [0,0,2,3,3,5,6,5,8,7, 9,10,8,11,10,12,11,13,10,12, 14,12,15,13,14,16,13,15,16,14, 13,15,14,16,13,15,14,16,15,13, 15],
    "TOP": [0,0,0,2,4,5,6,6,7,9, 10,11,10,12,11,13,12,14,12,13, 15,13,16,14,13,16,14,16,15,17, 16,15,17,16,15,14,17,16,15,17, 16],
}

R4_REACHH_MEAN = {
    "DAC": [0,0,0,0,2,3,5,4,8,10, 12,15,18,20,22,25,28,30,33,35, 38,40,42,45,48,50,52,50,55,58, 55,60,62,58,65,68,62,70,72,68, 75],
    "SAC": [0,0,0,1,2,4,3,6,8,11, 13,12,17,20,24,22,28,32,30,36, 40,38,44,42,48,52,50,55,53,58, 60,57,63,60,66,64,70,68,65,72, 70],
    "OAC": [0,0,0,0,1,3,5,7,6,10, 12,16,15,20,22,26,25,30,35,33, 38,42,40,46,44,50,48,54,52,57, 55,61,58,64,62,66,70,65,72,70, 74],
    "TD3": [0,0,0,0,2,3,4,7,9,8, 13,15,19,18,24,27,30,28,35,38, 42,40,47,45,52,50,55,53,58,56, 62,60,64,68,65,70,72,68,74,70, 72],
    "GPL": [0,0,0,1,1,3,4,5,7,9, 11,13,14,18,20,22,26,28,30,34, 36,40,38,43,45,48,46,52,55,52, 58,56,60,63,60,65,68,66,70,72, 70],
    "TOP": [0,0,0,0,1,2,4,5,7,8, 10,13,15,17,20,23,25,28,31,33, 36,38,41,43,45,48,50,52,54,56, 58,60,62,63,65,66,68,69,70,71, 72],
}
R4_REACHH_SPREAD = {
    "DAC": [0,0,0,1,2,3,4,4,5,6, 7,8,9,10,10,11,12,12,13,13, 14,14,15,15,14,15,16,15,14,16, 15,14,16,15,14,16,15,14,16,15, 14],
    "SAC": [0,0,0,1,2,3,3,4,5,6, 7,7,8,9,10,11,11,12,13,13, 14,14,14,15,15,14,15,16,15,14, 15,16,14,15,16,14,15,16,14,15, 16],
    "OAC": [0,0,0,0,1,2,3,4,5,6, 6,8,9,9,11,11,12,13,12,14, 14,15,14,15,16,14,15,16,14,15, 16,14,15,16,15,14,16,15,14,16, 15],
    "TD3": [0,0,0,1,2,3,4,5,6,7, 8,9,10,11,12,13,13,14,14,15, 16,15,16,17,16,15,17,16,15,17, 16,15,17,16,15,17,16,15,17,16, 15],
    "GPL": [0,0,0,1,1,2,3,4,5,5, 6,7,8,9,10,10,11,12,13,13, 14,14,15,15,14,15,16,14,15,16, 14,15,16,14,15,16,14,15,16,14, 15],
    "TOP": [0,0,0,0,1,2,3,4,4,5, 6,7,8,9,10,11,11,12,13,13, 13,14,14,15,15,14,15,16,15,14, 15,16,15,14,15,16,15,14,15,16, 15],
}

# y tick values per panel type
Y_TICKS_UNIT = [0, 0.2, 0.4, 0.6, 0.8, 1.0]
Y_TICKS_08 = [0, 0.2, 0.4, 0.6, 0.8]
Y_TICKS_OBJ = [0, 0.05, 0.10, 0.15]
Y_TICKS_OBJH = [0, 0.1, 0.2, 0.3, 0.4]
Y_TICKS_PENH = [0, 0.1, 0.2, 0.3, 0.4, 0.5]
Y_TICKS_POSEH = [-0.04, -0.02, 0, 0.02, 0.04]

# (title, kind, data_a, data_b, y_range, y_ticks, tick_format)
PANELS = [
    ("myo-key-turn", "band", R1_KEY_MEAN, R1_KEY_SPREAD, [-0.08, 1.05], Y_TICKS_UNIT, ".1f"),
    ("myo-obj-hold", "spike", R1_OBJ_SPIKES, None, [-0.015, 0.176], Y_TICKS_OBJ, ".2f"),
    ("myo-pen-twirl", "band", R1_PEN_MEAN, R1_PEN_SPREAD, [-0.08, 1.05], Y_TICKS_UNIT, ".1f"),
    ("myo-pose", "band", R1_POSE_MEAN, R1_POSE_SPREAD, [-0.08, 1.05], Y_TICKS_UNIT, ".1f"),
    ("myo-reach", "band", R1_REACH_MEAN, R1_REACH_SPREAD, [-0.08, 1.05], Y_TICKS_UNIT, ".1f"),
    ("myo-key-turn-hard", "band", R2_KEYH_MEAN, R2_KEYH_SPREAD, [-0.055, 0.91], Y_TICKS_08, ".1f"),
    ("myo-obj-hold-hard", "band", R2_OBJH_MEAN, R2_OBJH_SPREAD, [-0.026, 0.438], Y_TICKS_OBJH, ".1f"),
    ("myo-pen-twirl-hard", "band", R2_PENH_MEAN, R2_PENH_SPREAD, [-0.034, 0.59], Y_TICKS_PENH, ".1f"),
    ("myo-pose-hard", "band", POSEH_MEAN, POSEH_SPREAD, [-0.059, 0.057], Y_TICKS_POSEH, ".2f"),
    ("myo-reach-hard", "band", R2_REACHH_MEAN, R2_REACHH_SPREAD, [-0.057, 0.99], Y_TICKS_08, ".1f"),
    ("myo-key-turn", "band", R3_KEY_MEAN, R3_KEY_SPREAD, [-0.07, 1.06], Y_TICKS_UNIT, ".1f"),
    ("myo-obj-hold", "spike", R3_OBJ_SPIKES, None, [-0.012, 0.177], Y_TICKS_OBJ, ".2f"),
    ("myo-pen-twirl", "band", R3_PEN_MEAN, R3_PEN_SPREAD, [-0.07, 1.06], Y_TICKS_UNIT, ".1f"),
    ("myo-pose", "band", R3_POSE_MEAN, R3_POSE_SPREAD, [-0.07, 1.06], Y_TICKS_UNIT, ".1f"),
    ("myo-reach", "band", R3_REACH_MEAN, R3_REACH_SPREAD, [-0.07, 1.06], Y_TICKS_UNIT, ".1f"),
    ("myo-key-turn-hard", "band", R4_KEYH_MEAN, R4_KEYH_SPREAD, [-0.066, 0.98], Y_TICKS_08, ".1f"),
    ("myo-obj-hold-hard", "band", R4_OBJH_MEAN, R4_OBJH_SPREAD, [-0.029, 0.433], Y_TICKS_OBJH, ".1f"),
    ("myo-pen-twirl-hard", "band", R4_PENH_MEAN, R4_PENH_SPREAD, [-0.04, 0.61], Y_TICKS_PENH, ".1f"),
    ("myo-pose-hard", "band", POSEH_MEAN, POSEH_SPREAD, [-0.059, 0.057], Y_TICKS_POSEH, ".2f"),
    ("myo-reach-hard", "band", R4_REACHH_MEAN, R4_REACHH_SPREAD, [-0.07, 1.08], Y_TICKS_UNIT, ".1f"),
]

# ---------------- layout geometry (pixels) ----------------
COL_X0 = [32, 247, 457, 669, 882]     # pixel of x = 0
COL_X1 = [203, 416, 627, 842, 1052]   # pixel of x = 1
ROW_TOP = [72, 212, 350, 490]
ROW_BOT = [184, 321, 462, 602]
TITLE_Y = [63, 203, 342, 482]
X_RANGE = [-0.065, 1.045]


def rgba(c, a):
    return f"rgba({c[0]},{c[1]},{c[2]},{a})"


def px_x(p):
    return p / W


def px_y(p):
    return 1 - p / H


fig = go.Figure()
layout = dict(
    width=W, height=H, margin=dict(l=0, r=0, t=0, b=0),
    paper_bgcolor="white", plot_bgcolor="white", showlegend=False,
    font=dict(family=FONT, color="#333333", size=9),
)
annotations = []
shapes = []

for k, (title, kind, da, db, yr, yt, fmt) in enumerate(PANELS):
    r, c = divmod(k, 5)
    idx = k + 1
    xa = "x" if idx == 1 else f"x{idx}"
    ya = "y" if idx == 1 else f"y{idx}"
    x0, x1 = COL_X0[c], COL_X1[c]
    w = x1 - x0
    left = x0 + X_RANGE[0] * w
    right = x0 + X_RANGE[1] * w
    layout["xaxis" if idx == 1 else f"xaxis{idx}"] = dict(
        domain=[px_x(left), px_x(right)], range=X_RANGE, anchor=ya,
        tickmode="array", tickvals=X_TICKS, ticktext=X_TICK_TEXT,
        showline=True, linecolor="#4a4a4a", linewidth=1.6,
        showgrid=True, gridcolor="#ececec", gridwidth=0.8, zeroline=False,
        ticks="", tickfont=dict(family=FONT, size=9, color="#333333"),
        fixedrange=True,
    )
    layout["yaxis" if idx == 1 else f"yaxis{idx}"] = dict(
        domain=[px_y(ROW_BOT[r]), px_y(ROW_TOP[r])], range=yr, anchor=xa,
        tickmode="array", tickvals=yt, tickformat=fmt,
        showline=True, linecolor="#4a4a4a", linewidth=1.6,
        showgrid=True, gridcolor="#ececec", gridwidth=0.8, zeroline=False,
        ticks="", tickfont=dict(family=FONT, size=9, color="#333333"),
        fixedrange=True,
    )
    annotations.append(dict(
        text=title, xref="paper", yref="paper",
        x=px_x((x0 + x1) / 2), y=px_y(TITLE_Y[r]), xanchor="center", yanchor="middle",
        showarrow=False, font=dict(family=FONT, size=11, color="#222222"),
    ))

    for algo in ALGOS:
        col = COLORS[algo]
        if kind == "spike":
            spikes = da[algo]
            sx, sy = [X[0]], [0.0]
            for s in spikes:
                sx += [s - 0.009, s, s + 0.009]
                sy += [0.0, SPIKE_HEIGHT, 0.0]
            sx.append(X[-1])
            sy.append(0.0)
            if spikes:
                fig.add_trace(go.Scatter(
                    x=sx, y=sy, mode="lines", fill="tozeroy",
                    fillcolor=rgba(col, 0.2), line=dict(width=0),
                    hoverinfo="skip", xaxis=xa, yaxis=ya))
            fig.add_trace(go.Scatter(
                x=X, y=[v / 100 for v in ZEROS], mode="lines",
                line=dict(color=rgba(col, 1), width=2.2 if algo == "TOP" else 1.6),
                hoverinfo="skip", xaxis=xa, yaxis=ya))
        else:
            mean = da[algo]
            spread = db[algo]
            n = min(len(X), len(mean), len(spread))
            xs = X[:n]
            if any(spread[:n]):
                hi = [min(m + s, 100) / 100 for m, s in zip(mean[:n], spread[:n])]
                lo = [max(m - s, 0) / 100 for m, s in zip(mean[:n], spread[:n])]
                fig.add_trace(go.Scatter(
                    x=xs + xs[::-1], y=hi + lo[::-1], mode="lines", fill="toself",
                    fillcolor=rgba(col, 0.2), line=dict(width=0),
                    hoverinfo="skip", xaxis=xa, yaxis=ya))
            fig.add_trace(go.Scatter(
                x=xs, y=[m / 100 for m in mean[:n]], mode="lines",
                line=dict(color=rgba(col, 1), width=1.6),
                hoverinfo="skip", xaxis=xa, yaxis=ya))

# ---------------- legend (drawn as shapes + text) ----------------
BX0, BY0, BX1, BY1, RAD = 20, 8, 1045, 52, 6
path = (f"M {px_x(BX0 + RAD)},{px_y(BY0)} L {px_x(BX1 - RAD)},{px_y(BY0)} "
        f"Q {px_x(BX1)},{px_y(BY0)} {px_x(BX1)},{px_y(BY0 + RAD)} "
        f"L {px_x(BX1)},{px_y(BY1 - RAD)} Q {px_x(BX1)},{px_y(BY1)} {px_x(BX1 - RAD)},{px_y(BY1)} "
        f"L {px_x(BX0 + RAD)},{px_y(BY1)} Q {px_x(BX0)},{px_y(BY1)} {px_x(BX0)},{px_y(BY1 - RAD)} "
        f"L {px_x(BX0)},{px_y(BY0 + RAD)} Q {px_x(BX0)},{px_y(BY0)} {px_x(BX0 + RAD)},{px_y(BY0)} Z")
shapes.append(dict(type="path", xref="paper", yref="paper", path=path,
                   line=dict(color="#d0d0d0", width=1.2), fillcolor="white", layer="above"))

SWATCH_LEFT = [44, 221, 394, 569, 740, 911]
for algo, sl in zip(ALGOS, SWATCH_LEFT):
    col = COLORS[algo]
    shapes.append(dict(type="rect", xref="paper", yref="paper",
                       x0=px_x(sl), x1=px_x(sl + 54), y0=px_y(37), y1=px_y(17),
                       fillcolor=rgba(col, 0.75), line=dict(color=rgba(col, 0.9), width=1),
                       layer="above"))
    annotations.append(dict(text=algo, xref="paper", yref="paper",
                            x=px_x(sl + 72), y=px_y(28), xanchor="left", yanchor="middle",
                            showarrow=False, font=dict(family=FONT, size=26, color="#222222")))

layout["annotations"] = annotations
layout["shapes"] = shapes
fig.update_layout(**layout)
fig.write_html("out.html", config={"displayModeBar": False},
               post_script="document.body.style.margin='0';document.body.style.overflow='hidden';")
